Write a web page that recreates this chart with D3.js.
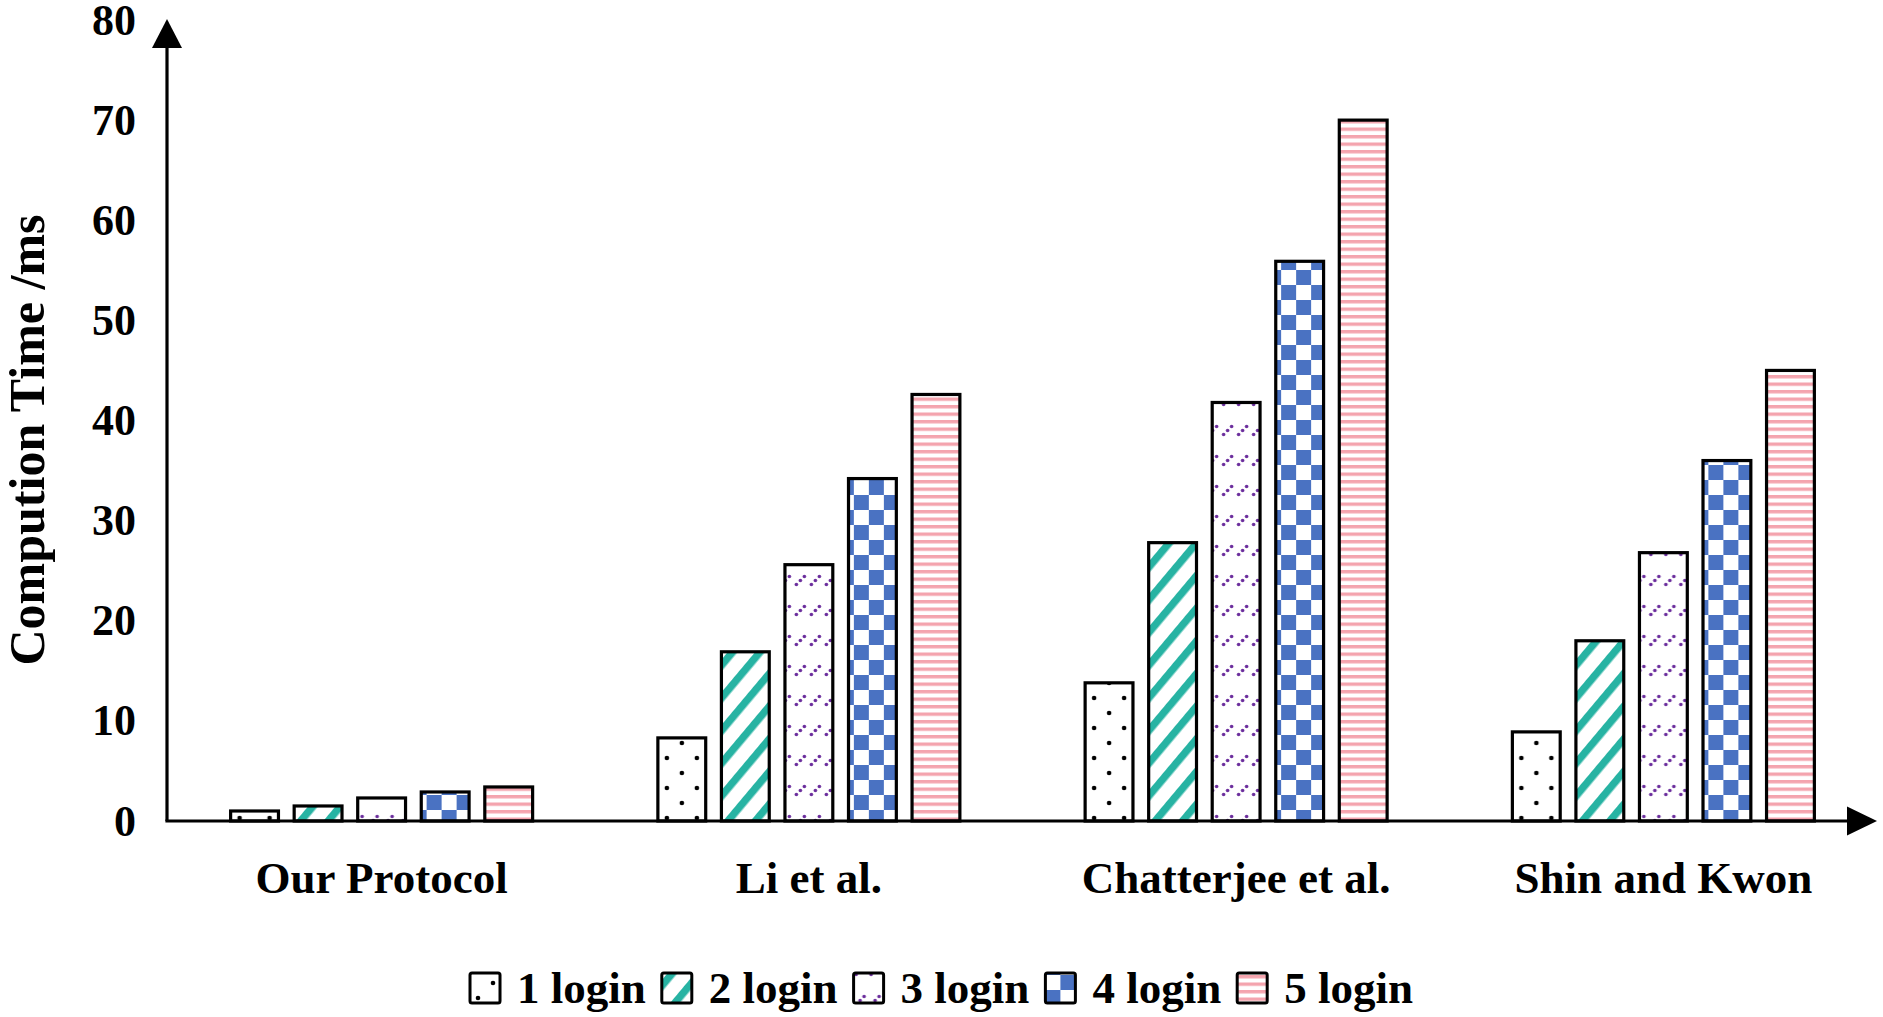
<!DOCTYPE html>
<html>
<head>
<meta charset="utf-8">
<script src="https://cdn.jsdelivr.net/npm/d3@7"></script>
<style>
  html, body { margin: 0; padding: 0; background: #ffffff; }
  svg { display: block; }
  text { font-family: "Liberation Serif", "Times New Roman", serif; font-weight: bold; fill: #000; }
</style>
</head>
<body>
<svg id="chart" width="1883" height="1017"></svg>
<script>
// ---- data ----
const categories = ["Our Protocol", "Li et al.", "Chatterjee et al.", "Shin and Kwon"];
const seriesNames = ["1 login", "2 login", "3 login", "4 login", "5 login"];
const login1 = [1.0, 8.3, 13.8, 8.9];
const login2 = [1.5, 16.9, 27.8, 18.0];
const login3 = [2.3, 25.6, 41.8, 26.8];
const login4 = [2.9, 34.2, 55.9, 36.0];
const login5 = [3.4, 42.6, 70.0, 45.0];
const seriesValues = [login1, login2, login3, login4, login5];
const yTicks = [0, 10, 20, 30, 40, 50, 60, 70, 80];
const yTitle = "Compution Time /ms";

// ---- setup ----
const svg = d3.select("#chart");
const W = 1883, H = 1017;
const axisX = 167, axisY = 821;

const y = d3.scaleLinear().domain([0, 80]).range([axisY, 20]);
const x0 = d3.scaleBand().domain(categories).range([168, 1877]).padding(0);
const x1 = d3.scaleBand().domain(seriesNames).range([-152.5, 152.5]).paddingInner(0.2).paddingOuter(0);

// ---- patterns ----
const defs = svg.append("defs");
const patIds = ["pDots", "pTeal", "pPurple", "pChecker", "pPink"];

// 1: sparse black dots
let p = defs.append("pattern").attr("id", "pDots").attr("patternUnits", "userSpaceOnUse")
  .attr("width", 30).attr("height", 30);
p.append("rect").attr("width", 30).attr("height", 30).attr("fill", "#fff");
p.append("circle").attr("cx", 8).attr("cy", 8).attr("r", 2.3).attr("fill", "#000");
p.append("circle").attr("cx", 23).attr("cy", 23).attr("r", 2.3).attr("fill", "#000");

// 2: teal wide upward diagonal
p = defs.append("pattern").attr("id", "pTeal").attr("patternUnits", "userSpaceOnUse")
  .attr("width", 21).attr("height", 21).attr("patternTransform", "rotate(40)");
p.append("rect").attr("width", 21).attr("height", 21).attr("fill", "#fff");
p.append("rect").attr("x", 0).attr("width", 7.5).attr("height", 21).attr("fill", "#27b3a3");

// 3: purple dotted diagonals
p = defs.append("pattern").attr("id", "pPurple").attr("patternUnits", "userSpaceOnUse")
  .attr("width", 15).attr("height", 30);
p.append("rect").attr("width", 15).attr("height", 30).attr("fill", "#fff");
[[2.5, 14.5], [6.5, 10.5], [10.5, 6.5]].forEach(d => {
  p.append("circle").attr("cx", d[0]).attr("cy", d[1]).attr("r", 1.8).attr("fill", "#6a2c9c");
});

// 4: blue checker
p = defs.append("pattern").attr("id", "pChecker").attr("patternUnits", "userSpaceOnUse")
  .attr("width", 30).attr("height", 30);
p.append("rect").attr("width", 30).attr("height", 30).attr("fill", "#fff");
p.append("rect").attr("x", 0).attr("y", 0).attr("width", 15).attr("height", 15).attr("fill", "#4a72c2");
p.append("rect").attr("x", 15).attr("y", 15).attr("width", 15).attr("height", 15).attr("fill", "#4a72c2");

// 5: pink horizontal lines
p = defs.append("pattern").attr("id", "pPink").attr("patternUnits", "userSpaceOnUse")
  .attr("width", 10).attr("height", 7.5);
p.append("rect").attr("width", 10).attr("height", 7.5).attr("fill", "#fff");
p.append("rect").attr("y", 0).attr("width", 10).attr("height", 3.4).attr("fill", "#f4a4ae");

// ---- bars ----
const groups = svg.append("g").selectAll("g")
  .data(categories)
  .join("g")
  .attr("transform", d => `translate(${x0(d) + x0.bandwidth() / 2},0)`);

groups.selectAll("rect")
  .data((c, ci) => seriesNames.map((s, si) => ({ s, si, v: seriesValues[si][ci] })))
  .join("rect")
  .attr("x", d => x1(d.s) + 1.5)
  .attr("width", x1.bandwidth() - 3)
  .attr("y", d => y(d.v))
  .attr("height", d => y(0) - y(d.v))
  .attr("fill", d => `url(#${patIds[d.si]})`)
  .attr("stroke", "#000")
  .attr("stroke-width", 3.2);

// ---- axes ----
const yAxis = d3.axisLeft(y).tickValues(yTicks).tickSize(0).tickPadding(31);
const gy = svg.append("g").attr("transform", `translate(${axisX},0)`).call(yAxis);
gy.select(".domain").remove();
gy.selectAll("text").attr("font-size", 44).attr("font-family", "Liberation Serif").attr("font-weight", "bold").attr("fill", "#000");

const xAxis = d3.axisBottom(x0).tickSize(0);
const gx = svg.append("g").attr("transform", `translate(0,${axisY})`).call(xAxis);
gx.select(".domain").remove();
gx.selectAll("text").attr("y", 72).attr("dy", 0).attr("font-size", 45)
  .attr("font-family", "Liberation Serif").attr("font-weight", "bold").attr("fill", "#000");

// axis lines with arrows
svg.append("line").attr("x1", axisX).attr("y1", axisY).attr("x2", axisX).attr("y2", y(80) + 26)
  .attr("stroke", "#000").attr("stroke-width", 3.2);
svg.append("path")
  .attr("d", `M${axisX},${y(80) - 1} L${axisX - 15},${y(80) + 28} L${axisX + 15},${y(80) + 28} Z`)
  .attr("fill", "#000");
svg.append("line").attr("x1", axisX - 1.6).attr("y1", axisY).attr("x2", x0.range()[1] - 26).attr("y2", axisY)
  .attr("stroke", "#000").attr("stroke-width", 3.2);
svg.append("path")
  .attr("d", `M${x0.range()[1]},${axisY} L${x0.range()[1] - 30},${axisY - 14.5} L${x0.range()[1] - 30},${axisY + 14.5} Z`)
  .attr("fill", "#000");

// y title
svg.append("text")
  .attr("transform", `translate(44,440) rotate(-90)`)
  .attr("text-anchor", "middle")
  .attr("font-size", 50)
  .text(yTitle);

// ---- legend ----
const legend = svg.append("g");
const items = legend.selectAll("g").data(seriesNames).join("g");
items.append("rect")
  .attr("width", 30).attr("height", 30).attr("y", 973).attr("rx", 2)
  .attr("fill", (d, i) => `url(#${patIds[i]})`)
  .attr("stroke", "#000").attr("stroke-width", 3);
items.append("text")
  .attr("x", 47).attr("y", 1003)
  .attr("font-size", 45)
  .text(d => d);
let cursor = 0;
const positions = [];
items.each(function () {
  const tw = d3.select(this).select("text").node().getComputedTextLength();
  positions.push(cursor);
  cursor += 47 + tw + 16;
});
const totalW = cursor - 16;
const startX = W / 2 - totalW / 2;
items.attr("transform", (d, i) => `translate(${startX + positions[i]},0)`);
</script>
</body>
</html>
